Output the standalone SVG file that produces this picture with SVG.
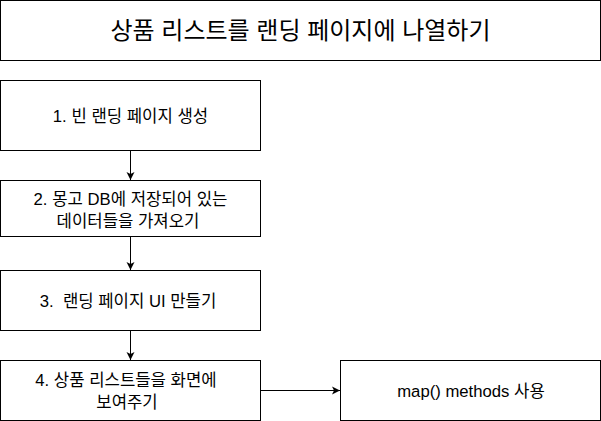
<svg xmlns="http://www.w3.org/2000/svg" width="601" height="421" viewBox="0 0 601 421">
<style>
rect{fill:#fff;stroke:#000;stroke-width:1}
text{font-family:"Liberation Sans","Noto Sans CJK KR",sans-serif;font-size:16.7px;fill:#000;text-anchor:middle;white-space:pre}
.t{font-size:24px}
.c{fill:none;stroke:#000;stroke-width:1}
</style>
<defs>
<marker id="a" markerWidth="9" markerHeight="9" refX="8" refY="4.5" orient="auto" markerUnits="userSpaceOnUse">
<path d="M0,0.5 L8,4.5 L0,8.5 L2,4.5 Z" fill="#000"/>
</marker>
</defs>
<rect width="601" height="421" style="fill:#fff;stroke:none"/>
<g id="title"><rect x="0.5" y="0.5" width="600" height="60"/><text class="t" x="300.5" y="39">상품 리스트를 랜딩 페이지에 나열하기</text></g>
<g id="n1"><rect x="0.5" y="80.5" width="260" height="70"/><text x="130.5" y="121.5">1. 빈 랜딩 페이지 생성</text></g>
<g id="n2"><rect x="0.5" y="180.5" width="260" height="56"/><text x="130.5" y="205">2. 몽고 DB에 저장되어 있는</text><text x="128" y="227">데이터들을 가져오기</text></g>
<g id="n3"><rect x="0.5" y="270.5" width="260" height="60"/><text x="128" y="306.5">3.  랜딩 페이지 UI 만들기</text></g>
<g id="n4"><rect x="0.5" y="360.5" width="260" height="60"/><text x="126" y="386">4. 상품 리스트들을 화면에</text><text x="127" y="408">보여주기</text></g>
<g id="n5"><rect x="340.5" y="360.5" width="260" height="60"/><text x="471" y="396.5">map() methods 사용</text></g>
<g id="connectors">
<path class="c" d="M130.5,150.5V180" marker-end="url(#a)"/>
<path class="c" d="M130.5,236.5V270" marker-end="url(#a)"/>
<path class="c" d="M130.5,330.5V360" marker-end="url(#a)"/>
<path class="c" d="M260.5,390.5H340" marker-end="url(#a)"/>
</g>
</svg>
